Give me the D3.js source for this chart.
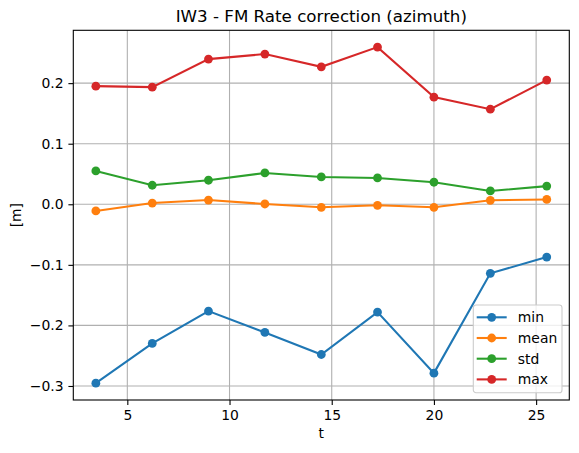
<!doctype html>
<html lang="en">
  <head>
    <meta charset="utf-8">
    <title>IW3 - FM Rate correction (azimuth)</title>
    <style>
      * {
        box-sizing: border-box;
      }

      body {
        margin: 0;
        background: white;
      }

      svg text {
        font-family: "DejaVu Sans", sans-serif;
        fill: black;
      }
    </style>
  </head>
  <body>
    <div id="chart"></div>

    <script src="https://cdn.jsdelivr.net/npm/d3@7"></script>
    <script>
      // data
      const t = [3.46, 6.22, 8.97, 11.73, 14.49, 17.24, 20.0, 22.76, 25.52]
      const minVals = [-0.2954, -0.2298, -0.1764, -0.2116, -0.2480, -0.1780, -0.2788, -0.1140, -0.0871]
      const meanVals = [-0.0110, 0.0020, 0.0070, 0.0005, -0.0050, -0.0017, -0.0050, 0.0066, 0.0080]
      const stdVals = [0.0550, 0.0314, 0.0397, 0.0517, 0.0451, 0.0435, 0.0364, 0.0220, 0.0300]
      const maxVals = [0.1950, 0.1934, 0.2397, 0.2480, 0.2270, 0.2595, 0.1769, 0.1570, 0.2050]
      const seriesNames = ['min', 'mean', 'std', 'max']
      const xTicks = [5, 10, 15, 20, 25]
      const yTicks = [-0.3, -0.2, -0.1, 0.0, 0.1, 0.2]

      const colors = ['#1f77b4', '#ff7f0e', '#2ca02c', '#d62728']
      const series = [minVals, meanVals, stdVals, maxVals].map((vals, i) => ({
        name: seriesNames[i],
        color: colors[i],
        points: vals.map((v, j) => ({ x: t[j], y: v }))
      }))

      const width = 579
      const height = 453
      const margin = { top: 30.3, right: 9.7, bottom: 53, left: 73.3 }
      const plotW = width - margin.left - margin.right
      const plotH = height - margin.top - margin.bottom

      // matplotlib style 5% padding on data extent
      function padded(ext) {
        const d = (ext[1] - ext[0]) * 0.05
        return [ext[0] - d, ext[1] + d]
      }
      const allY = [].concat(minVals, meanVals, stdVals, maxVals)

      const x = d3.scaleLinear()
        .domain(padded(d3.extent(t)))
        .range([0, plotW])
      const y = d3.scaleLinear()
        .domain(padded(d3.extent(allY)))
        .range([plotH, 0])

      const svg = d3.select('#chart')
        .append('svg')
          .attr('width', width)
          .attr('height', height)

      const g = svg.append('g')
        .attr('transform', `translate(${margin.left}, ${margin.top})`)

      // grid
      g.append('g')
        .selectAll('line')
        .data(xTicks)
        .join('line')
          .attr('x1', d => x(d))
          .attr('x2', d => x(d))
          .attr('y1', 0)
          .attr('y2', plotH)
          .attr('stroke', '#b0b0b0')
          .attr('stroke-width', 1.1)
      g.append('g')
        .selectAll('line')
        .data(yTicks)
        .join('line')
          .attr('x1', 0)
          .attr('x2', plotW)
          .attr('y1', d => y(d))
          .attr('y2', d => y(d))
          .attr('stroke', '#b0b0b0')
          .attr('stroke-width', 1.1)

      // axes
      const fmtY = d => d3.format('.1f')(d).replace('-', '\u2212')
      const xAxis = d3.axisBottom(x)
        .tickValues(xTicks)
        .tickSize(4.9)
        .tickPadding(4.9)
        .tickFormat(d3.format('d'))
      const yAxis = d3.axisLeft(y)
        .tickValues(yTicks)
        .tickSize(4.9)
        .tickPadding(4.9)
        .tickFormat(fmtY)

      const gx = g.append('g')
        .attr('transform', `translate(0, ${plotH})`)
        .call(xAxis)
      const gy = g.append('g')
        .call(yAxis)

      for (const ax of [gx, gy]) {
        ax.select('.domain').remove()
        ax.selectAll('line').attr('stroke', 'black').attr('stroke-width', 1.1)
        ax.selectAll('text')
          .style('font-family', '"DejaVu Sans", sans-serif')
          .style('font-size', '13.9px')
          .attr('fill', 'black')
      }

      // lines + markers
      const line = d3.line()
        .x(d => x(d.x))
        .y(d => y(d.y))

      const sg = g.selectAll('.series')
        .data(series)
        .join('g')
          .attr('class', 'series')

      sg.append('path')
        .attr('d', d => line(d.points))
        .attr('fill', 'none')
        .attr('stroke', d => d.color)
        .attr('stroke-width', 2.1)

      sg.selectAll('circle')
        .data(d => d.points.map(p => ({ ...p, color: d.color })))
        .join('circle')
          .attr('cx', d => x(d.x))
          .attr('cy', d => y(d.y))
          .attr('r', 4.4)
          .attr('fill', d => d.color)

      // frame
      g.append('rect')
        .attr('width', plotW)
        .attr('height', plotH)
        .attr('fill', 'none')
        .attr('stroke', 'black')
        .attr('stroke-width', 1.1)

      // legend
      const lx = 473.3 - margin.left
      const ly = 305 - margin.top
      const legend = g.append('g')
        .attr('transform', `translate(${lx}, ${ly})`)
      legend.append('rect')
        .attr('width', 88.7)
        .attr('height', 87.7)
        .attr('rx', 2.8)
        .attr('fill', 'white')
        .attr('fill-opacity', 0.8)
        .attr('stroke', '#cccccc')
        .attr('stroke-width', 1.1)

      const items = legend.selectAll('.item')
        .data(series)
        .join('g')
          .attr('class', 'item')
          .attr('transform', (d, i) => `translate(0, ${12.3 + i * 20.7})`)
      items.append('line')
        .attr('x1', 3.4)
        .attr('x2', 33.4)
        .attr('stroke', d => d.color)
        .attr('stroke-width', 2.1)
      items.append('circle')
        .attr('cx', 18.4)
        .attr('r', 4.4)
        .attr('fill', d => d.color)
      items.append('text')
        .attr('x', 44.5)
        .attr('dy', '0.35em')
        .style('font-size', '13.9px')
        .text(d => d.name)

      // titles
      svg.append('text')
        .attr('x', margin.left + plotW / 2)
        .attr('y', 22)
        .attr('text-anchor', 'middle')
        .style('font-size', '16.7px')
        .text('IW3 - FM Rate correction (azimuth)')

      svg.append('text')
        .attr('x', margin.left + plotW / 2)
        .attr('y', 438)
        .attr('text-anchor', 'middle')
        .style('font-size', '13.9px')
        .text('t')

      svg.append('text')
        .attr('transform', `translate(20.5, ${margin.top + plotH / 2}) rotate(-90)`)
        .attr('text-anchor', 'middle')
        .style('font-size', '13.9px')
        .text('[m]')
    </script>
  </body>
</html>
